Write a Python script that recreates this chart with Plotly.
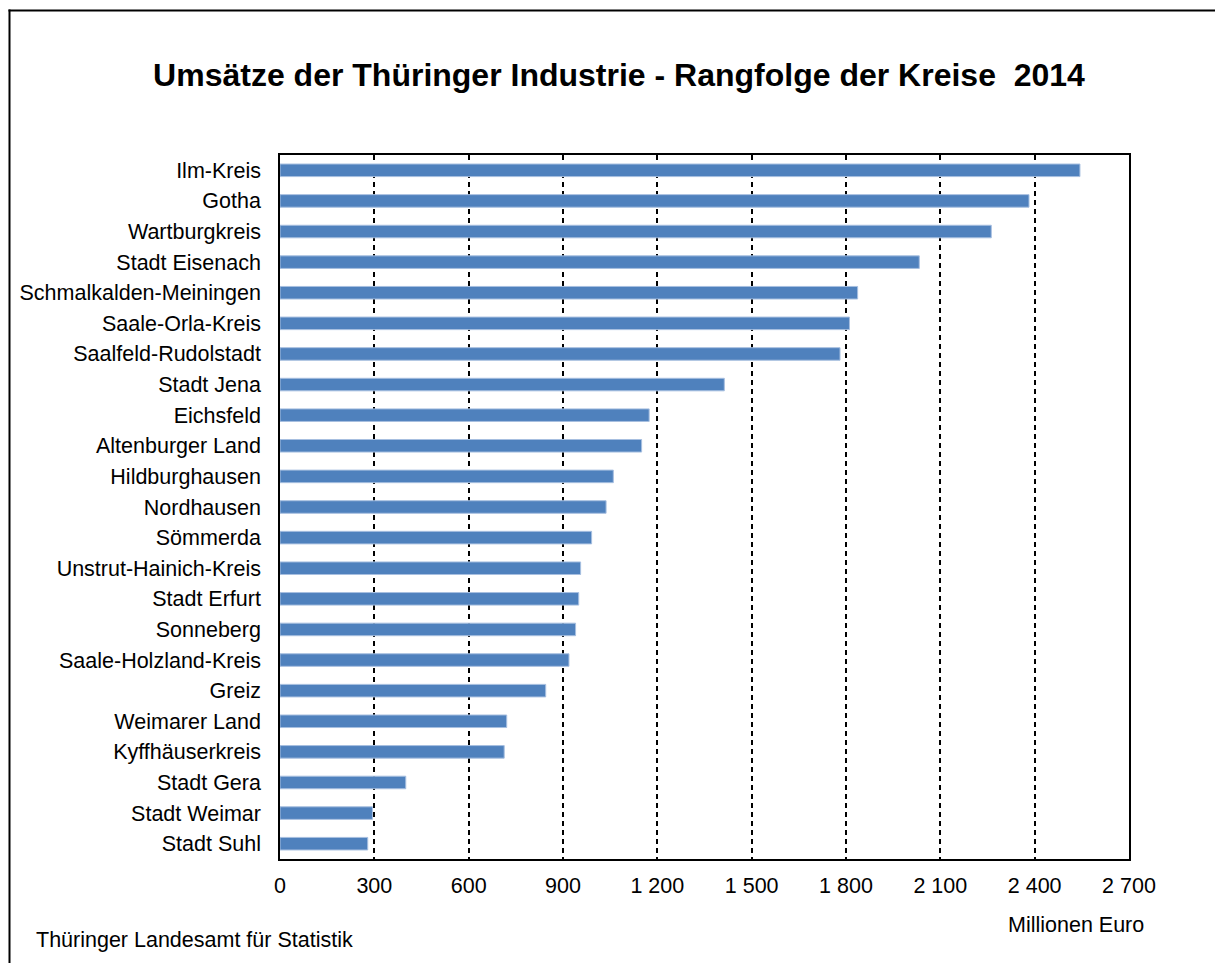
import plotly.graph_objects as go

kreise = ["Ilm-Kreis", "Gotha", "Wartburgkreis", "Stadt Eisenach", "Schmalkalden-Meiningen",
          "Saale-Orla-Kreis", "Saalfeld-Rudolstadt", "Stadt Jena", "Eichsfeld", "Altenburger Land",
          "Hildburghausen", "Nordhausen", "Sömmerda", "Unstrut-Hainich-Kreis", "Stadt Erfurt",
          "Sonneberg", "Saale-Holzland-Kreis", "Greiz", "Weimarer Land", "Kyffhäuserkreis",
          "Stadt Gera", "Stadt Weimar", "Stadt Suhl"]
umsatz = [2544, 2382, 2262, 2033, 1837, 1811, 1781, 1413, 1174, 1150, 1060, 1037, 991, 956,
          950, 940, 919, 845, 721, 713, 400, 294, 279]
tick_vals = [0, 300, 600, 900, 1200, 1500, 1800, 2100, 2400, 2700]
tick_text = ["0", "300", "600", "900", "1 200", "1 500", "1 800", "2 100", "2 400", "2 700"]

W, H = 1215, 963
L, R, T, B = 280, 1129, 155, 859
FONT = "Liberation Sans, Arial, sans-serif"
FS = 21.5


def px(x):
    return (x - L) / (R - L)


def py(y):
    return (B - y) / (B - T)


fig = go.Figure(go.Bar(
    x=umsatz, y=kreise, orientation="h",
    marker=dict(color="#4F81BD", line=dict(color="#A7BFE0", width=1)),
))

fig.update_layout(
    width=W, height=H,
    margin=dict(l=L, r=W - R, t=T, b=H - B, pad=0),
    paper_bgcolor="white", plot_bgcolor="white",
    showlegend=False, bargap=0.59,
    font=dict(family=FONT, size=FS, color="black"),
    title=dict(text="<b>Umsätze der Thüringer Industrie - Rangfolge der Kreise  2014</b>",
               x=619 / W, xanchor="center", xref="container",
               y=1 - 75 / H, yanchor="middle", yref="container",
               font=dict(family=FONT, size=32, color="black")),
    xaxis=dict(range=[0, 2700], tickvals=tick_vals, ticktext=tick_text,
               showgrid=True, gridcolor="black", gridwidth=1.5, griddash="5px,4px",
               showline=True, linecolor="black", linewidth=1.5, mirror=True,
               ticks="", zeroline=False, ticklabelstandoff=6,
               tickfont=dict(family=FONT, size=FS, color="black"), fixedrange=True),
    yaxis=dict(range=[22.5, -0.5], showgrid=False,
               showline=True, linecolor="black", linewidth=1.5, mirror=True,
               ticks="", ticklabelstandoff=13,
               tickfont=dict(family=FONT, size=FS, color="black"), fixedrange=True),
    shapes=[
        dict(type="line", xref="paper", yref="paper",
             x0=px(9.5), x1=px(9.5), y0=py(1000), y1=py(9.5),
             line=dict(color="black", width=2), layer="above"),
        dict(type="line", xref="paper", yref="paper",
             x0=px(8.5), x1=px(1260), y0=py(10.5), y1=py(10.5),
             line=dict(color="black", width=2), layer="above"),
    ],
    annotations=[
        dict(text="Millionen Euro", xref="paper", yref="paper", x=px(1076), y=py(925),
             xanchor="center", yanchor="middle", showarrow=False,
             font=dict(family=FONT, size=FS, color="black")),
        dict(text="Thüringer Landesamt für Statistik", xref="paper", yref="paper",
             x=px(34), y=py(940), xanchor="left", yanchor="middle", showarrow=False,
             font=dict(family=FONT, size=FS, color="black")),
    ],
)

fig.write_html("out.html", config={"displayModeBar": False},
               post_script="document.body.style.margin='0';document.body.style.overflow='hidden';")
